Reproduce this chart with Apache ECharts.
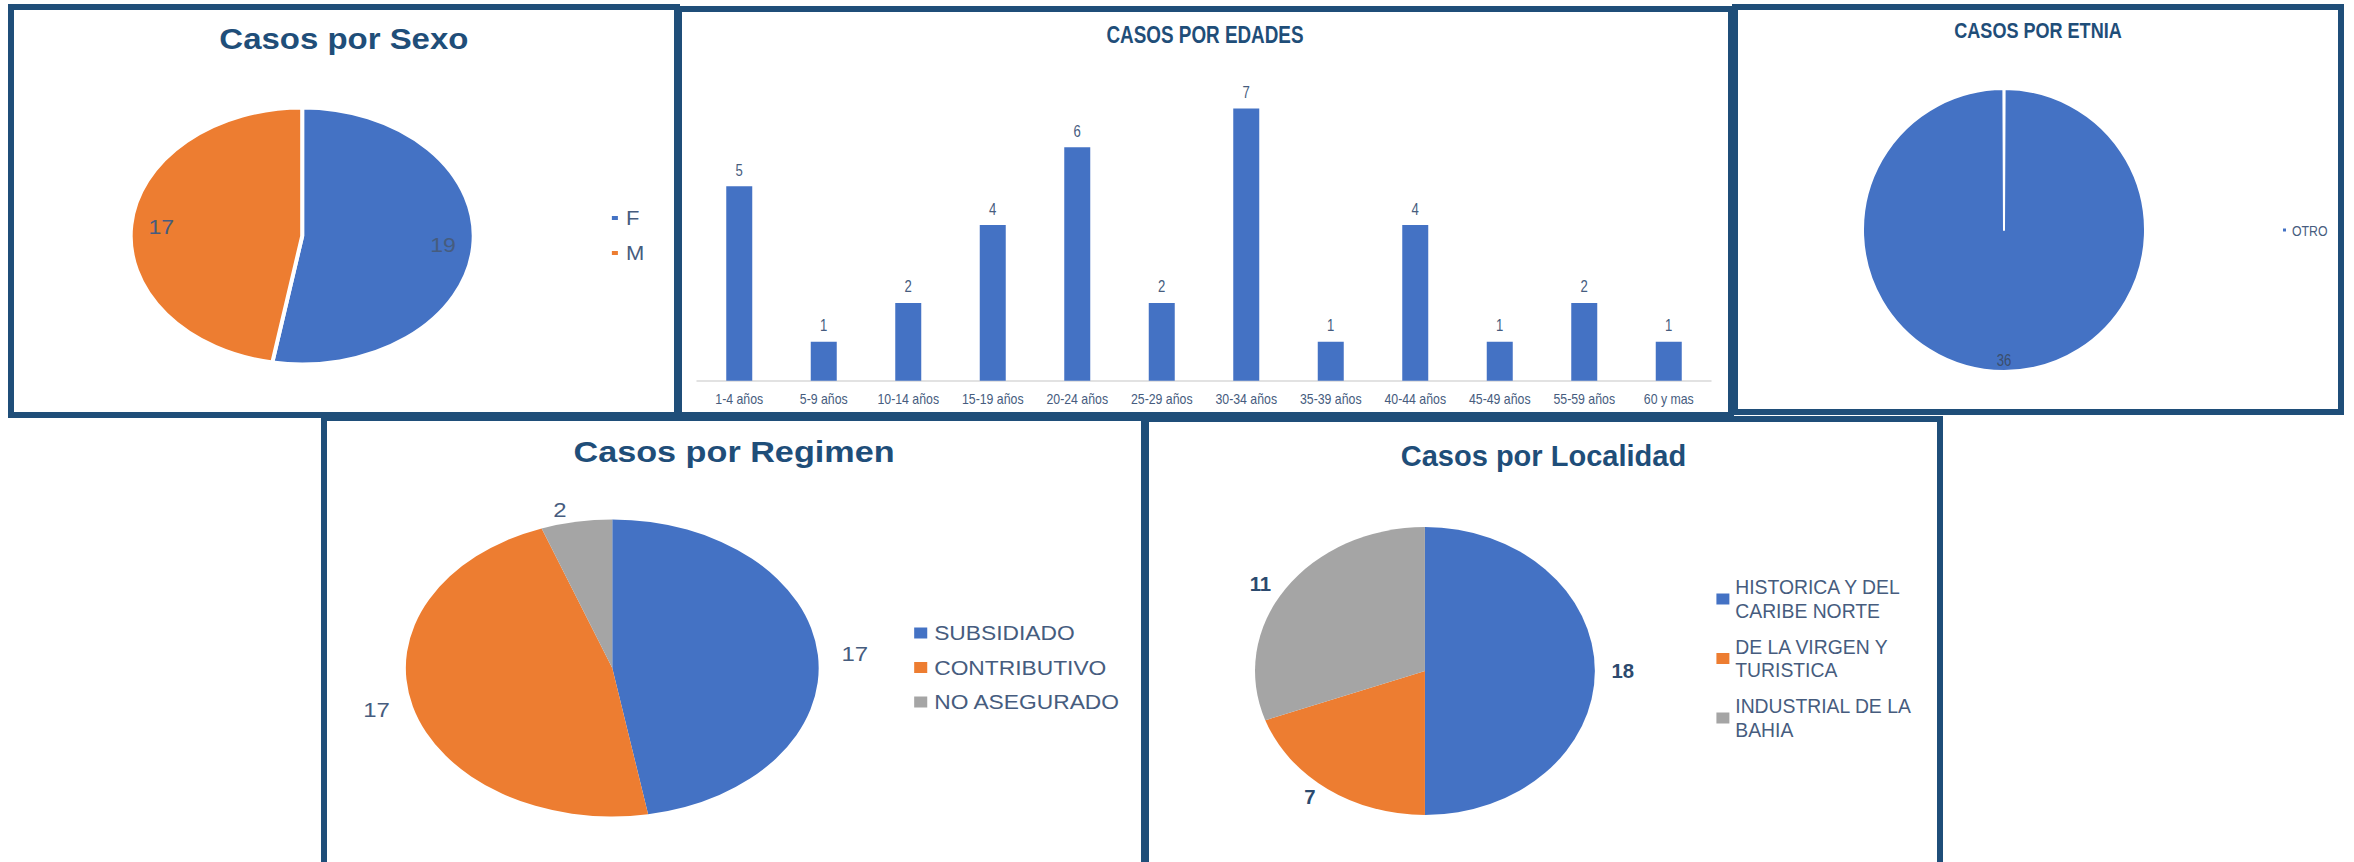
<!DOCTYPE html>
<html>
<head>
<meta charset="utf-8">
<script src="https://cdn.jsdelivr.net/npm/echarts@6.0.0/dist/echarts.min.js"></script>
<style>
html, body { margin:0; padding:0; background:#ffffff; width:2354px; height:862px; overflow:hidden; }
.chart { position:absolute; transform-origin:0 0; }
.panel { position:absolute; box-sizing:border-box; border:6px solid #1F4E79; pointer-events:none; }
</style>
</head>
<body>
<div id="sexo" class="chart"></div>
<div id="edades" class="chart"></div>
<div id="etnia" class="chart"></div>
<div id="regimen" class="chart"></div>
<div id="localidad" class="chart"></div>
<script>
// ---------------- DATA ----------------
const sexoCategories = ['F', 'M'];
const sexoValues = [19, 17];

const edadCategories = ['1-4 años', '5-9 años', '10-14 años', '15-19 años', '20-24 años', '25-29 años',
  '30-34 años', '35-39 años', '40-44 años', '45-49 años', '55-59 años', '60 y mas'];
const edadValues = [5, 1, 2, 4, 6, 2, 7, 1, 4, 1, 2, 1];

const etniaCategories = ['OTRO'];
const etniaValues = [36];

const regimenCategories = ['SUBSIDIADO', 'CONTRIBUTIVO', 'NO ASEGURADO'];
const regimenValues = [17, 17, 2];

const localidadCategories = ['HISTORICA Y DEL CARIBE NORTE', 'DE LA VIRGEN Y TURISTICA', 'INDUSTRIAL DE LA BAHIA'];
const localidadLegendLabels = ['HISTORICA Y DEL\nCARIBE NORTE', 'DE LA VIRGEN Y\nTURISTICA', 'INDUSTRIAL DE LA\nBAHIA'];
const localidadValues = [18, 7, 11];

// ---------------- STYLE ----------------
const FONT = "'Liberation Sans', Arial, sans-serif";
const NARROW = 0.82;               // emulate a narrow face (Arial Narrow proportions)
const PAD = 80;                    // spare room around each drawing area (natural units)
const BLUE = '#4472C4', ORANGE = '#ED7D31', GRAY = '#A5A5A5';
const TITLE_COLOR = '#1F4E79';
const TEXT_COLOR = '#465C7E';
const BOLD_LABEL_COLOR = '#2C4A6E';

function toPie(names, values) {
  return names.map((n, i) => ({ name: n, value: values[i] }));
}

function condense(el) {
  el.querySelectorAll('text').forEach(function (t) {
    let orig = t.getAttribute('data-orig-len');
    if (orig === null) {
      const len = t.getComputedTextLength();
      if (!(len > 0)) return;
      orig = len;
      t.setAttribute('data-orig-len', String(len));
    }
    t.setAttribute('textLength', (parseFloat(orig) * NARROW).toFixed(2));
    t.setAttribute('lengthAdjust', 'spacingAndGlyphs');
  });
}

function makePanel(id, box, sx, option) {
  const el = document.getElementById(id);
  el.style.left = (box.x - PAD * sx) + 'px';
  el.style.top = box.y + 'px';
  el.style.width = (box.w / sx + 2 * PAD) + 'px';
  el.style.height = box.h + 'px';
  el.style.transform = 'scaleX(' + sx + ')';
  const chart = echarts.init(el, null, { renderer: 'svg' });
  option.animation = false;
  chart.on('finished', function () { condense(el); });
  chart.setOption(option);
  condense(el);
  const b = document.createElement('div');
  b.className = 'panel';
  b.style.left = box.x + 'px';
  b.style.top = box.y + 'px';
  b.style.width = box.w + 'px';
  b.style.height = box.h + 'px';
  document.body.appendChild(b);
}

function titleOpt(text, top, size) {
  return {
    text: text, left: 'center', top: top, padding: 0,
    textStyle: { fontFamily: FONT, fontSize: size, fontWeight: 'bold', color: TITLE_COLOR }
  };
}

// ---------------- SEXO ----------------
makePanel('sexo', { x: 8, y: 4, w: 672, h: 414 }, 1.34, {
  color: [BLUE, ORANGE],
  title: titleOpt('Casos por Sexo', 20, 30),
  legend: {
    orient: 'vertical', left: PAD + 448.5, top: 204, padding: 0, icon: 'rect',
    itemWidth: 6.5, itemHeight: 6, itemGap: 15, data: sexoCategories,
    textStyle: { fontFamily: FONT, fontSize: 20, color: TEXT_COLOR }
  },
  series: [
    {
      type: 'pie', center: [PAD + 219.4, 232], radius: [0, 128], startAngle: 90, clockwise: true,
      data: toPie(sexoCategories, sexoValues), silent: true,
      itemStyle: { borderColor: '#ffffff', borderWidth: 3 },
      label: { show: false }, labelLine: { show: false }
    },
    {
      type: 'pie', center: [PAD + 219.4, 232], radius: [77, 128], startAngle: 90, clockwise: true,
      data: toPie(sexoCategories, sexoValues), silent: true, legendHoverLink: false,
      itemStyle: { color: 'rgba(0,0,0,0)', borderWidth: 0 },
      label: { show: true, position: 'inside', formatter: '{c}', fontFamily: FONT, fontSize: 21, color: TEXT_COLOR, textBorderWidth: 0 },
      labelLine: { show: false }
    }
  ]
});

// ---------------- EDADES ----------------
makePanel('edades', { x: 676, y: 6, w: 1058, h: 412 }, 1, {
  title: titleOpt('CASOS POR EDADES', 17, 23),
  grid: { left: PAD + 21, right: PAD + 23, top: 63.5, bottom: 37.3 },
  xAxis: {
    type: 'category', data: edadCategories,
    axisLine: { lineStyle: { color: '#D9D9D9', width: 1.5 } },
    axisTick: { show: false },
    axisLabel: { interval: 0, fontFamily: FONT, fontSize: 15, color: TEXT_COLOR, margin: 10 }
  },
  yAxis: { type: 'value', min: 0, max: 8, show: false, splitLine: { show: false } },
  series: [{
    type: 'bar', data: edadValues, barWidth: 26, itemStyle: { color: BLUE },
    label: { show: true, position: 'top', distance: 8, fontFamily: FONT, fontSize: 16, color: TEXT_COLOR }
  }]
});

// ---------------- ETNIA ----------------
makePanel('etnia', { x: 1732, y: 4, w: 612, h: 411 }, 1, {
  color: [BLUE],
  title: titleOpt('CASOS POR ETNIA', 15, 22),
  legend: {
    orient: 'vertical', left: PAD + 549, top: 218.5, padding: 0, icon: 'rect',
    itemWidth: 5, itemHeight: 5, data: etniaCategories,
    textStyle: { fontFamily: FONT, fontSize: 15, color: TEXT_COLOR }
  },
  series: [
    {
      type: 'pie', center: [PAD + 272, 226], radius: [0, 141], startAngle: 90, clockwise: true, padAngle: 0.5,
      data: toPie(etniaCategories, etniaValues), silent: true,
      itemStyle: { borderColor: '#ffffff', borderWidth: 2 },
      label: { show: false }, labelLine: { show: false }
    },
    {
      type: 'pie', center: [PAD + 272, 226], radius: [113, 141], startAngle: 90, clockwise: true,
      data: toPie(etniaCategories, etniaValues), silent: true, legendHoverLink: false,
      itemStyle: { color: 'rgba(0,0,0,0)', borderWidth: 0 },
      label: { show: true, position: 'inside', formatter: '{c}', fontFamily: FONT, fontSize: 16, color: '#3B4E6B', textBorderWidth: 0 },
      labelLine: { show: false }
    }
  ]
});

// ---------------- REGIMEN ----------------
makePanel('regimen', { x: 321, y: 415, w: 826, h: 460 }, 1.39, {
  color: [BLUE, ORANGE, GRAY],
  title: titleOpt('Casos por Regimen', 22, 30),
  legend: {
    orient: 'vertical', left: PAD + 426.6, top: 208, padding: 0, icon: 'rect',
    itemWidth: 9.4, itemHeight: 11, itemGap: 14.5, data: regimenCategories,
    textStyle: { fontFamily: FONT, fontSize: 20, color: TEXT_COLOR }
  },
  series: [{
    type: 'pie', center: [PAD + 209.4, 253], radius: [0, 148.5], startAngle: 90, clockwise: true,
    data: toPie(regimenCategories, regimenValues), silent: true, avoidLabelOverlap: false,
    itemStyle: { borderWidth: 0 },
    label: { show: true, position: 'outside', formatter: '{c}', fontFamily: FONT, fontSize: 21, color: TEXT_COLOR },
    labelLine: { show: false, length: 12, length2: 0 }
  }]
});

// ---------------- LOCALIDAD ----------------
makePanel('localidad', { x: 1143, y: 416, w: 800, h: 460 }, 1.18, {
  color: [BLUE, ORANGE, GRAY],
  title: titleOpt('Casos por Localidad', 24, 30),
  legend: {
    orient: 'vertical', left: PAD + 485.6, top: 147.75, padding: 0, icon: 'rect',
    itemWidth: 11, itemHeight: 11, itemGap: -11, data: localidadCategories,
    formatter: function (name) { return localidadLegendLabels[localidadCategories.indexOf(name)]; },
    textStyle: { fontFamily: FONT, fontSize: 20, lineHeight: 23.5, padding: [23.5, 0, 0, 0], color: TEXT_COLOR }
  },
  series: [{
    type: 'pie', center: [PAD + 238.6, 255], radius: [0, 144], startAngle: 90, clockwise: true,
    data: toPie(localidadCategories, localidadValues), silent: true, avoidLabelOverlap: false,
    itemStyle: { borderWidth: 0 },
    label: { show: true, position: 'outside', formatter: '{c}', fontFamily: FONT, fontSize: 21, fontWeight: 'bold', color: BOLD_LABEL_COLOR },
    labelLine: { show: false, length: 9, length2: 0 }
  }]
});
</script>
</body>
</html>
